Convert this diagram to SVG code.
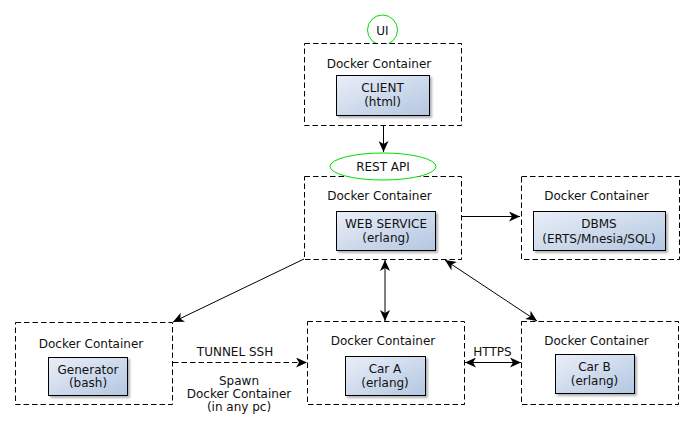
<svg xmlns="http://www.w3.org/2000/svg" width="693" height="432" viewBox="0 0 693 432">
<defs>
<linearGradient id="g" x1="0" y1="0" x2="1" y2="1">
<stop offset="0" stop-color="#eaeff8"/>
<stop offset="1" stop-color="#b3c6e1"/>
</linearGradient>
<filter id="sh" x="-10%" y="-10%" width="130%" height="140%">
<feDropShadow dx="2" dy="2" stdDeviation="1" flood-color="#000" flood-opacity="0.3"/>
</filter>
<marker id="ar" markerUnits="userSpaceOnUse" markerWidth="12" markerHeight="10" refX="11" refY="5" orient="auto-start-reverse" viewBox="0 0 12 10">
<path d="M0,0 L11,5 L0,10 L3,5 Z" fill="#000"/>
</marker>
<style>
text{font-family:"DejaVu Sans",Verdana,sans-serif;font-size:12px;fill:#111;text-anchor:middle}
.cont{fill:#fff;stroke:#000;stroke-width:1;stroke-dasharray:5.5 3}
.inner{fill:url(#g);stroke:#000;stroke-width:1;filter:url(#sh)}
.green{fill:#fff;stroke:#00dd00;stroke-width:1}
.con{fill:none;stroke:#000;stroke-width:1}
</style>
</defs>
<rect width="693" height="432" fill="#fff"/>
<g id="connectors">
<line class="con" x1="383.5" y1="126" x2="383.5" y2="152" marker-end="url(#ar)"/>
<line class="con" x1="461" y1="216.5" x2="520" y2="216.5" marker-end="url(#ar)"/>
<line class="con" x1="304" y1="259" x2="173" y2="322" marker-end="url(#ar)"/>
<line class="con" x1="385" y1="260" x2="385" y2="321" stroke-width="1.3" marker-start="url(#ar)" marker-end="url(#ar)"/>
<line class="con" x1="445" y1="260" x2="537" y2="321" stroke-width="1.3" marker-start="url(#ar)" marker-end="url(#ar)"/>
<line class="con" x1="173" y1="362.5" x2="307" y2="362.5" stroke-dasharray="5.5 3" marker-end="url(#ar)"/>
<line class="con" x1="465" y1="362.5" x2="521" y2="362.5" marker-start="url(#ar)" marker-end="url(#ar)"/>
<text x="235" y="355.5">TUNNEL SSH</text>
<text x="239" y="385">Spawn</text>
<text x="239" y="398">Docker Container</text>
<text x="239" y="411">(in any pc)</text>
<text x="492.5" y="355.5">HTTPS</text>
</g>
<g id="ui">
<circle class="green" cx="382.5" cy="30" r="15"/>
<text x="382.5" y="34.5">UI</text>
</g>
<g id="client">
<rect class="cont" x="304.5" y="43.5" width="157" height="82"/>
<text x="379" y="67.5">Docker Container</text>
<rect class="inner" x="336.5" y="75.5" width="93" height="40"/>
<text x="382.5" y="92">CLIENT</text>
<text x="382.5" y="105.5">(html)</text>
</g>
<g id="webservice">
<rect class="cont" x="304.5" y="176.5" width="157" height="83"/>
<text x="379.5" y="199.5">Docker Container</text>
<rect class="inner" x="336.5" y="211.5" width="99" height="39"/>
<text x="386" y="227.5">WEB SERVICE</text>
<text x="386" y="242">(erlang)</text>
</g>
<g id="restapi">
<ellipse class="green" cx="383" cy="166.5" rx="53" ry="13.5"/>
<text x="383" y="171">REST API</text>
</g>
<g id="dbms">
<rect class="cont" x="521.5" y="176.5" width="158" height="83"/>
<text x="596.5" y="200">Docker Container</text>
<rect class="inner" x="533.5" y="211.5" width="132" height="39"/>
<text x="599" y="227.5">DBMS</text>
<text x="599" y="242.5">(ERTS/Mnesia/SQL)</text>
</g>
<g id="generator">
<rect class="cont" x="15.5" y="322.5" width="157" height="82"/>
<text x="91" y="347.5">Docker Container</text>
<rect class="inner" x="48.5" y="357.5" width="79" height="38"/>
<text x="88" y="373.5">Generator</text>
<text x="88" y="387">(bash)</text>
</g>
<g id="cara">
<rect class="cont" x="307.5" y="321.5" width="157" height="83"/>
<text x="383" y="345">Docker Container</text>
<rect class="inner" x="345.5" y="356.5" width="80" height="39"/>
<text x="385" y="373">Car A</text>
<text x="385" y="386.5">(erlang)</text>
</g>
<g id="carb">
<rect class="cont" x="521.5" y="321.5" width="157" height="83"/>
<text x="596.5" y="345">Docker Container</text>
<rect class="inner" x="555.5" y="354.5" width="79" height="39"/>
<text x="594.5" y="371">Car B</text>
<text x="594.5" y="384.5">(erlang)</text>
</g>
</svg>
